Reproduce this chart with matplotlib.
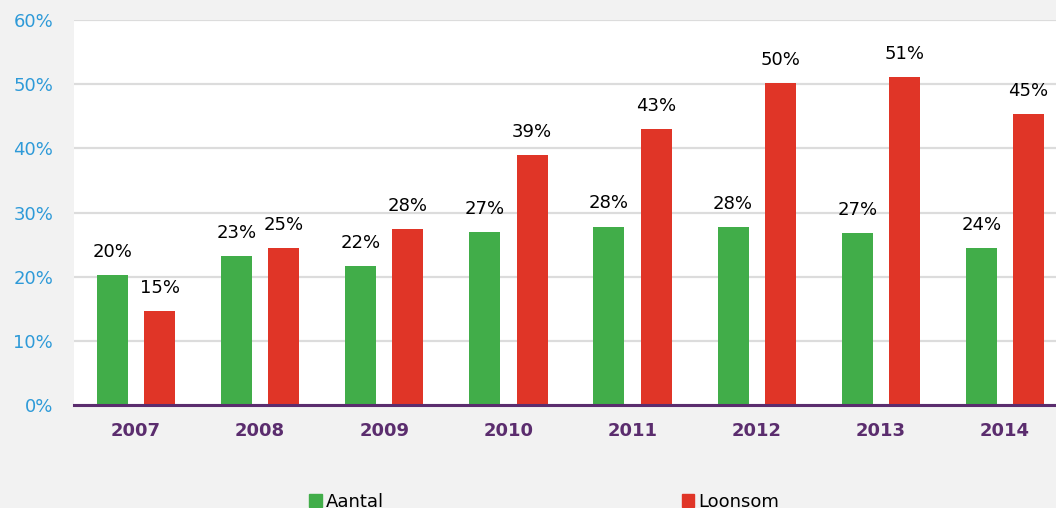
import matplotlib.pyplot as plt
import numpy as np
from matplotlib.patches import Patch

years = ['2007', '2008', '2009', '2010', '2011', '2012', '2013', '2014']
aantal = [20.2, 23.2, 21.6, 26.9, 27.8, 27.7, 26.8, 24.4]
loonsom = [14.7, 24.5, 27.4, 38.9, 43.0, 50.2, 51.1, 45.3]
aantal_labels = ['20%', '23%', '22%', '27%', '28%', '28%', '27%', '24%']
loonsom_labels = ['15%', '25%', '28%', '39%', '43%', '50%', '51%', '45%']

green = '#41ad49'
red = '#e03527'
purple = '#5b2d6e'
blue = '#2e9ad8'

fig = plt.figure(figsize=(10.56, 5.08), dpi=100, facecolor='#f2f2f2')
# axes run past the right edge like in the original crop
ax = fig.add_axes([74/1056, 1 - 405/508, 993/1056, 385/508])
ax.set_facecolor('white')

x = np.arange(len(years))
w = 0.25
ax.bar(x - 0.19, aantal, w, color=green, zorder=3)
ax.bar(x + 0.19, loonsom, w, color=red, zorder=3)

for i in range(len(years)):
    ax.text(x[i] - 0.19, aantal[i] + 2.2, aantal_labels[i], ha='center', va='bottom', fontsize=13)
    ax.text(x[i] + 0.19, loonsom[i] + 2.2, loonsom_labels[i], ha='center', va='bottom', fontsize=13)

ax.set_xlim(-0.5, 7.5)
ax.set_ylim(0, 60)
ax.set_yticks(range(0, 61, 10))
ax.set_yticklabels([f'{v}%' for v in range(0, 61, 10)], color=blue, fontsize=13)
ax.set_xticks(x)
ax.set_xticklabels(years, color=purple, fontsize=13, fontweight='bold')
ax.tick_params(axis='both', length=0)
ax.tick_params(axis='x', pad=12)
ax.tick_params(axis='y', pad=15)

ax.grid(axis='y', color='#dcdcdc', linewidth=1.6, zorder=0)
for s in ['top', 'right', 'left']:
    ax.spines[s].set_visible(False)
ax.spines['bottom'].set_color(purple)
ax.spines['bottom'].set_linewidth(2.2)
ax.spines['bottom'].set_zorder(4)

handles = [Patch(color=green, label='Aantal'), Patch(color=red, label='Loonsom')]
fig.legend(handles=handles, loc='center left', bbox_to_anchor=(302/1056, 1 - 502/508),
           ncol=2, frameon=False, fontsize=13, handlelength=0.7, handleheight=0.7,
           handletextpad=0.2, columnspacing=16.5, borderaxespad=0)

plt.savefig('out.png', dpi=100, facecolor=fig.get_facecolor())
